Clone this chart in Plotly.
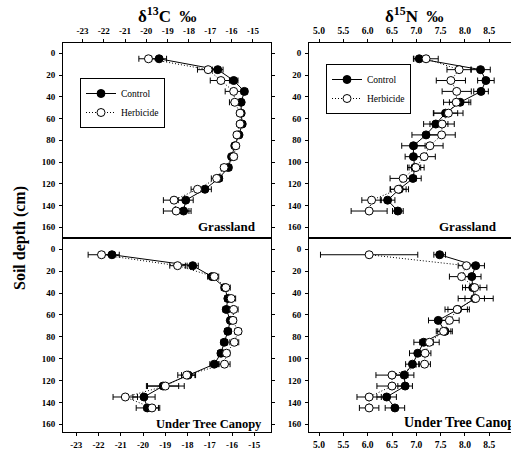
import plotly.graph_objects as go

depth = [5, 15, 25, 35, 45, 55, 65, 75, 85, 95, 105, 115, 125, 135, 145]
y_ticks = [0, 20, 40, 60, 80, 100, 120, 140, 160]
c_ticks = [-23, -22, -21, -20, -19, -18, -17, -16, -15]
n_ticks = [5.0, 5.5, 6.0, 6.5, 7.0, 7.5, 8.0, 8.5]
n_tick_text = ["5.0", "5.5", "6.0", "6.5", "7.0", "7.5", "8.0", "8.5"]

# Grassland, d13C
g_c_control = [-19.4, -16.65, -15.9, -15.4, -15.55, -15.55, -15.5, -15.65, -15.85, -16.0, -16.15, -16.6, -17.25, -18.15, -18.25]
g_c_control_err = [0.35, 0.25, 0.2, 0.15, 0.1, 0.12, 0.12, 0.1, 0.12, 0.1, 0.15, 0.15, 0.3, 0.35, 0.35]
g_c_herb = [-19.9, -17.1, -16.5, -15.9, -15.85, -15.6, -15.6, -15.75, -15.8, -15.9, -16.35, -16.7, -17.6, -18.7, -18.6]
g_c_herb_err = [0.45, 0.5, 0.5, 0.4, 0.25, 0.15, 0.15, 0.15, 0.15, 0.15, 0.15, 0.25, 0.3, 0.5, 0.6]

# Grassland, d15N
g_n_control = [7.06, 8.32, 8.43, 8.33, 7.9, 7.6, 7.4, 7.2, 6.94, 6.94, 6.97, 6.93, 6.65, 6.41, 6.62]
g_n_control_err = [0.12, 0.2, 0.17, 0.15, 0.22, 0.25, 0.25, 0.29, 0.24, 0.17, 0.12, 0.17, 0.19, 0.15, 0.11]
g_n_herb = [7.2, 7.88, 7.71, 7.83, 7.82, 7.66, 7.53, 7.52, 7.28, 7.16, 6.99, 6.73, 6.63, 6.08, 6.03]
g_n_herb_err = [0.25, 0.25, 0.3, 0.3, 0.26, 0.3, 0.25, 0.28, 0.27, 0.23, 0.17, 0.27, 0.16, 0.2, 0.37]

# Under tree canopy, d13C
t_c_control = [-21.4, -17.77, -16.9, -16.33, -16.19, -16.26, -16.08, -16.19, -16.35, -16.5, -16.8, -17.97, -19.1, -19.96, -19.81]
t_c_control_err = [0.33, 0.25, 0.2, 0.15, 0.15, 0.15, 0.12, 0.15, 0.15, 0.15, 0.2, 0.3, 0.7, 0.5, 0.5]
t_c_herb = [-21.87, -18.45, -16.8, -16.28, -16.04, -15.93, -15.96, -15.73, -15.9, -16.25, -16.34, -18.04, -19.0, -20.8, -19.6]
t_c_herb_err = [0.6, 0.35, 0.2, 0.2, 0.2, 0.2, 0.15, 0.15, 0.2, 0.15, 0.25, 0.4, 0.85, 0.55, 0.35]

# Under tree canopy, d15N
t_n_control = [7.48, 8.22, 8.14, 8.16, 8.2, 7.85, 7.45, 7.59, 7.15, 7.03, 6.92, 6.75, 6.77, 6.39, 6.56]
t_n_control_err = [0.12, 0.18, 0.19, 0.15, 0.2, 0.2, 0.2, 0.15, 0.2, 0.17, 0.14, 0.2, 0.15, 0.2, 0.2]
t_n_herb = [6.03, 8.03, 7.93, 8.2, 8.22, 7.84, 7.68, 7.56, 7.27, 7.18, 7.17, 6.5, 6.5, 6.03, 6.03]
t_n_herb_err = [1.0, 0.17, 0.25, 0.25, 0.36, 0.25, 0.2, 0.15, 0.2, 0.12, 0.12, 0.33, 0.31, 0.25, 0.2]

SERIF = "Liberation Serif"
W, H = 511, 452

panels = [
    ("x", "y", g_c_control, g_c_control_err, g_c_herb, g_c_herb_err, "legend", True),
    ("x2", "y2", g_n_control, g_n_control_err, g_n_herb, g_n_herb_err, "legend2", True),
    ("x3", "y3", t_c_control, t_c_control_err, t_c_herb, t_c_herb_err, "legend", False),
    ("x4", "y4", t_n_control, t_n_control_err, t_n_herb, t_n_herb_err, "legend", False),
]

fig = go.Figure()
for xa, ya, c, ce, h, he, lg, show in panels:
    fig.add_trace(go.Scatter(
        x=c, y=depth, xaxis=xa, yaxis=ya, name="Control", legend=lg, showlegend=show,
        mode="lines+markers",
        line=dict(color="black", width=1),
        marker=dict(symbol="circle", size=8, color="black", line=dict(color="black", width=1)),
        error_x=dict(type="data", array=ce, color="black", thickness=1, width=3),
        cliponaxis=False,
    ))
    fig.add_trace(go.Scatter(
        x=h, y=depth, xaxis=xa, yaxis=ya, name="Herbicide", legend=lg, showlegend=show,
        mode="lines+markers",
        line=dict(color="black", width=1, dash="1px,2px"),
        marker=dict(symbol="circle", size=8, color="white", line=dict(color="black", width=1)),
        error_x=dict(type="data", array=he, color="black", thickness=1, width=3),
        cliponaxis=False,
    ))

tickfont = dict(family=SERIF, size=9, color="black", weight="bold")
tickfont_r = dict(family=SERIF, size=9.5, color="black", weight="bold")
xl = [63 / W, 271 / W]
xr = [309 / W, 1.0]
yt = [1 - 238 / H, 1 - 43 / H]
yb = [1 - 432 / H, 1 - 238 / H]

def xax(domain, rng, vals, text, side, anchor, tf):
    return dict(domain=domain, range=rng, tickvals=vals, ticktext=text, side=side, anchor=anchor,
                showline=True, linecolor="black", linewidth=1, mirror=True, ticks="outside",
                ticklen=3, tickcolor="black", showgrid=False, zeroline=False, tickfont=tf,
                automargin=False, ticklabelstandoff=1)

def yax(domain, rng, anchor, mirror, tf):
    return dict(domain=domain, range=rng, tickvals=y_ticks, anchor=anchor,
                showline=True, linecolor="black", linewidth=1, mirror=mirror, ticks="outside",
                ticklen=3, tickcolor="black", showgrid=False, zeroline=False, tickfont=tf,
                automargin=False, ticklabelstandoff=2)

c_text = [str(v) for v in c_ticks]
fig.update_layout(
    width=W, height=H, margin=dict(l=0, r=0, t=0, b=0),
    paper_bgcolor="white", plot_bgcolor="white", showlegend=True,
    xaxis=xax(xl, [-23.91, -14.15], c_ticks, c_text, "top", "y", tickfont),
    xaxis2=xax(xr, [4.794, 8.946], n_ticks, n_tick_text, "top", "y2", tickfont_r),
    xaxis3=xax(xl, [-23.6, -14.25], c_ticks, c_text, "bottom", "y3", tickfont),
    xaxis4=xax(xr, [4.794, 8.946], n_ticks, n_tick_text, "bottom", "y4", tickfont_r),
    yaxis=yax(yt, [169.8, -9.5], "x", "ticks", tickfont),
    yaxis2=yax(yt, [169.8, -9.5], "x2", False, tickfont),
    yaxis3=yax(yb, [167.0, -10.3], "x3", "ticks", tickfont),
    yaxis4=yax(yb, [167.0, -10.3], "x4", False, tickfont),
    legend=dict(x=80 / W, y=1 - 78 / H, xanchor="left", yanchor="top",
                bgcolor="white", bordercolor="black", borderwidth=1,
                font=dict(family=SERIF, size=9.5, color="black"), itemwidth=30,
                tracegroupgap=0),
    legend2=dict(x=326 / W, y=1 - 64 / H, xanchor="left", yanchor="top",
                 bgcolor="white", bordercolor="black", borderwidth=1,
                 font=dict(family=SERIF, size=9.5, color="black"), itemwidth=30,
                 tracegroupgap=0),
)

ann = []
ann.append(dict(text="δ<sup>13</sup>C  ‰", xref="paper", yref="paper", x=167 / W, y=1 - 2 / H,
                xanchor="center", yanchor="top", showarrow=False,
                font=dict(family=SERIF, size=17, color="black", weight="bold")))
ann.append(dict(text="δ<sup>15</sup>N  ‰", xref="paper", yref="paper", x=414 / W, y=1 - 2 / H,
                xanchor="center", yanchor="top", showarrow=False,
                font=dict(family=SERIF, size=17, color="black", weight="bold")))
ann.append(dict(text="Soil depth (cm)", xref="paper", yref="paper", x=20 / W, y=1 - 238 / H,
                xanchor="center", yanchor="middle", textangle=-90, showarrow=False,
                font=dict(family=SERIF, size=16, color="black", weight="bold")))
ann.append(dict(text="Grassland", xref="x", yref="y", x=-14.75, y=159, xanchor="right",
                showarrow=False, font=dict(family=SERIF, size=13, color="black", weight="bold")))
ann.append(dict(text="Grassland", xref="x2", yref="y2", x=8.70, y=159, xanchor="right",
                showarrow=False, font=dict(family=SERIF, size=13, color="black", weight="bold")))
ann.append(dict(text="Under Tree Canopy", xref="x3", yref="y3", x=-14.55, y=160, xanchor="right",
                showarrow=False, font=dict(family=SERIF, size=12.5, color="black", weight="bold")))
ann.append(dict(text="Under Tree Canopy", xref="x4", yref="y4", x=6.70, y=158, xanchor="left",
                showarrow=False, font=dict(family=SERIF, size=14, color="black", weight="bold")))
ann.append(dict(text="9", xref="paper", yref="paper", x=509.5 / W, y=1 - 33 / H, xanchor="left",
                showarrow=False, font=tickfont_r))
ann.append(dict(text="9", xref="paper", yref="paper", x=509.5 / W, y=1 - 440 / H, xanchor="left",
                yanchor="middle", showarrow=False, font=tickfont_r))
fig.update_layout(annotations=ann)

fig.write_html("out.html", config={"displayModeBar": False},
               post_script="document.body.style.margin='0px';")
